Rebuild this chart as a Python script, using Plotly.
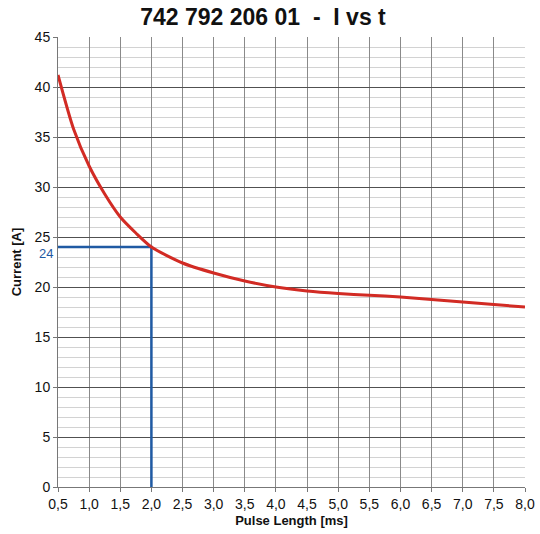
import plotly.graph_objs as go

# pulse length [ms] vs current [A]
pulse_ms = [0.5, 0.75, 1.0, 1.25, 1.5, 1.75, 2.0, 2.5, 3.0, 3.5, 4.0, 4.5, 5.0, 5.5, 6.0, 6.5, 7.0, 7.5, 8.0]
current_a = [41.2, 35.8, 32.1, 29.3, 27.0, 25.4, 24.0, 22.4, 21.4, 20.6, 20.0, 19.6, 19.35, 19.18, 19.0, 18.75, 18.5, 18.25, 18.0]

# marked working point
mark_t = 2.0
mark_i = 24

x_ticks = [0.5, 1.0, 1.5, 2.0, 2.5, 3.0, 3.5, 4.0, 4.5, 5.0, 5.5, 6.0, 6.5, 7.0, 7.5, 8.0]
x_labels = ['0,5', '1,0', '1,5', '2,0', '2,5', '3,0', '3,5', '4,0', '4,5', '5,0', '5,5', '6,0', '6,5', '7,0', '7,5', '8,0']
y_ticks = [0, 5, 10, 15, 20, 25, 30, 35, 40, 45]

fig = go.Figure()

fig.add_trace(go.Scatter(
    x=[pulse_ms[0], mark_t, mark_t], y=[mark_i, mark_i, 0],
    mode='lines', line=dict(color='#1f5aa3', width=2.5), hoverinfo='skip'))

fig.add_trace(go.Scatter(
    x=pulse_ms, y=current_a, mode='lines',
    line=dict(color='#d22b24', width=3, shape='spline', smoothing=0.7)))

fig.add_annotation(
    x=0, xref='paper', y=mark_i, yref='y', text=str(mark_i), showarrow=False,
    xanchor='right', xshift=-3, yshift=-6, font=dict(color='#1f5aa3', size=13, family='Liberation Sans'))

fig.update_layout(
    width=540, height=534,
    paper_bgcolor='white', plot_bgcolor='white',
    showlegend=False,
    margin=dict(l=58, r=15, t=37, b=47),
    font=dict(family='Liberation Sans, Arial, sans-serif', color='#111', size=14),
    title=dict(text='<b>742 792 206 01 &nbsp;-&nbsp; I vs t</b>', x=0.487, xanchor='center',
               y=0.968, yanchor='middle', font=dict(size=23, color='#111')),
    xaxis=dict(
        range=[0.5, 8.0], tickvals=x_ticks, ticktext=x_labels, automargin=False,
        showgrid=True, gridcolor='#8a8a8a', gridwidth=1.2,
        zeroline=False, showline=True, linecolor='#777', linewidth=1,
        ticks='outside', ticklen=4, tickcolor='#777',
        title=dict(text='<b>Pulse Length [ms]</b>', font=dict(size=13), standoff=5)),
    yaxis=dict(
        range=[0, 45], tickvals=y_ticks, automargin=False,
        showgrid=True, gridcolor='#505050', gridwidth=1.2,
        minor=dict(dtick=1, showgrid=True, gridcolor='#d2d2d2', gridwidth=1),
        zeroline=False, showline=True, linecolor='#777', linewidth=1,
        ticks='outside', ticklen=4, tickcolor='#777',
        title=dict(text='<b>Current [A]</b>', font=dict(size=13), standoff=10)),
)

# drop the default page margin so the figure fills the window exactly
fig.write_html('out.html', config={'displayModeBar': False},
               post_script="document.body.style.margin='0';")
